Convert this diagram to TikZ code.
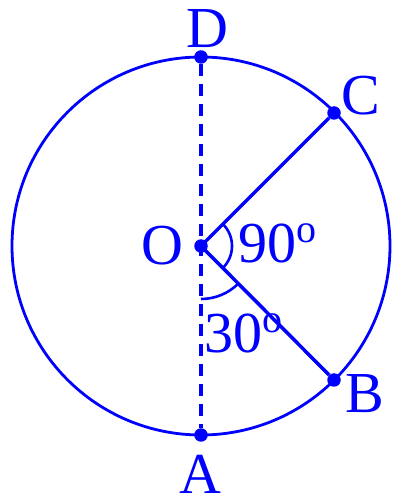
\documentclass[tikz,border=0pt]{standalone}
\usepackage{fontspec}
\setmainfont{Liberation Serif}
\newcommand{\degsign}{{\fontsize{40}{40}\selectfont\raisebox{20pt}{o}}}
\begin{document}
\begin{tikzpicture}[x=1pt, y=1pt, blue,
    lbl/.style={inner sep=0pt, font=\fontsize{58}{64}\selectfont},
    dot/.style={circle, fill=blue, inner sep=0pt, minimum size=13.5pt}]
        \useasboundingbox (0,0) rectangle (400,504);
        \coordinate (O) at (201,258);
        \draw [line width=2.8pt] (O) circle (189);
        \node [dot] (D) at (201,447) {};
        \node [dot] (A) at (201,69) {};
        \node [dot] (C) at (334,391) {};
        \node [dot] (B) at (334,124) {};
        \node [dot] (Odot) at (O) {};
        \draw [line width=3.5pt, dash pattern=on 12pt off 8pt] (D) -- (A);
        \draw [line width=3.5pt] (O) -- (C);
        \draw [line width=3.5pt] (O) -- (B);
        \draw [line width=2.6pt] ([shift={(45:31)}]O) arc (45:-45:31);
        \draw [line width=2.6pt] ([shift={(270:53)}]O) arc (270:315:53);
        \node [lbl, anchor=base] (Dl) at (207,456) {D};
        \node [lbl, anchor=base west] (Cl) at (341,389) {C};
        \node [lbl, anchor=base east] (Ol) at (184,239) {O};
        \node [lbl, anchor=base west] (Bl) at (345,91) {B};
        \node [lbl, anchor=base] (Al) at (200,10) {A};
        \node [lbl, anchor=base west] (ang1) at (238,241) {90\degsign};
        \node [lbl, anchor=base west] (ang2) at (204,151) {30\degsign};
\end{tikzpicture}
\end{document}
